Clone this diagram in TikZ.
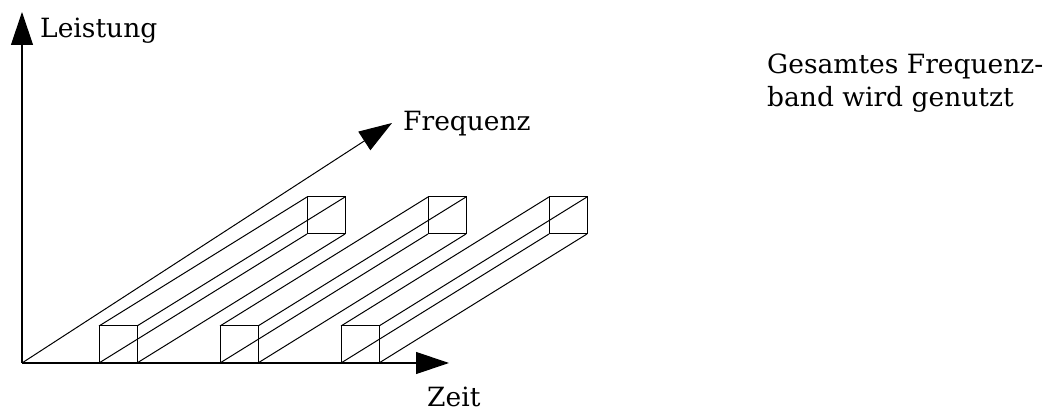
\documentclass[tikz,border=0pt]{standalone}
\usepackage{fontspec}
\setmainfont{DejaVu Serif}
\usetikzlibrary{arrows.meta,positioning}

\begin{document}
\begin{tikzpicture}[
    x=1pt,y=1pt,
    axis/.style={line width=1.2pt,-{Triangle[length=33pt,width=22pt]}},
    edge/.style={line width=1pt},
    lbl/.style={anchor=base west,inner sep=0pt,font=\fontsize{26.5}{33}\selectfont}
  ]
  \useasboundingbox (0,0) rectangle (1050,412);

  % axes
  \coordinate (o) at (22,49);
  \coordinate (ptop) at (22,400);
  \coordinate (tend) at (449,49);
  \coordinate (fend) at (392,289);
  \draw[axis] (o) -- (ptop);
  \draw[axis] (o) -- (tend);
  \draw[line width=1pt,-{Triangle[length=33pt,width=22pt]}] (o) -- (fend);

  \node[lbl] (leistung) at (40,374) {Leistung};
  \node[lbl] (frequenz) at (403,281) {Frequenz};
  \node[lbl] (zeit) at (427,5) {Zeit};
  \node[lbl,align=left] (note) at (767,305) {Gesamtes Frequenz-\\band wird genutzt};

  % channels: front face, back face, long edges
  \foreach \i/\x in {1/99,2/220,3/341} {
    \coordinate (f\i) at (\x,49);
    \coordinate (b\i) at (\x+208,178);
    \draw[edge] (f\i) rectangle ++(38,37);
    \draw[edge] (b\i) rectangle ++(38,37);
    \foreach \dx/\dy in {0/0,38/0,0/37,38/37}
      \draw[edge] ([shift={(\dx,\dy)}]f\i) -- ([shift={(\dx,\dy)}]b\i);
  }
\end{tikzpicture}
\end{document}
